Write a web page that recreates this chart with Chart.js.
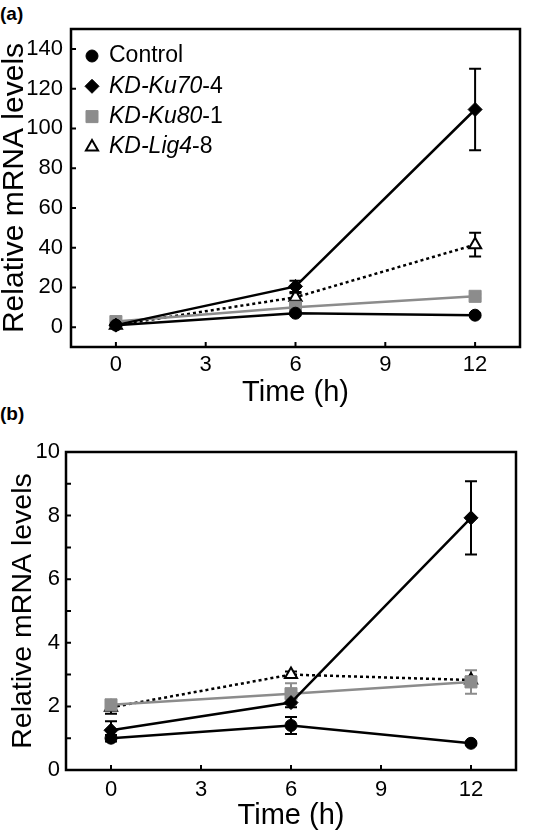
<!DOCTYPE html>
<html>
<head>
<meta charset="utf-8">
<script src="https://cdn.jsdelivr.net/npm/chart.js@4.4.1/dist/chart.umd.min.js"></script>
<style>
html, body { margin: 0; padding: 0; background: #fff; }
body { width: 553px; height: 836px; position: relative; overflow: hidden; font-family: 'Liberation Sans', Arial, sans-serif; }
.panel-label { position: absolute; left: 0; font-weight: bold; font-size: 19px; line-height: 1; }
.wrap { position: absolute; left: 0; width: 553px; }
.wrap canvas { display: block; }
</style>
</head>
<body>
<div class="panel-label" style="top:4px">(a)</div>
<div class="panel-label" style="top:404px">(b)</div>
<div class="wrap" style="top:0;height:415px"><canvas id="chartA" width="553" height="415"></canvas></div>
<div class="wrap" style="top:415px;height:421px"><canvas id="chartB" width="553" height="421"></canvas></div>
<script>
// Data
const timePoints = [0, 6, 12];
const xTicks = [0, 3, 6, 9, 12];
// [italic part, upright part]
const legendParts = [['', 'Control'], ['KD-Ku70', '-4'], ['KD-Ku80', '-1'], ['KD-Lig4', '-8']];

// panel (a)
const controlA = [1, 7, 6];
const controlErrA = [0.4, 1, 0.8];
const ku70A = [1, 20.5, 109.5];
const ku70ErrA = [0.4, 2.8, 20.5];
const ku80A = [2.8, 10, 15.5];
const ku80ErrA = [0.5, 1, 1];
const lig4A = [1, 15, 41.5];
const lig4ErrA = [0.4, 2, 6];
const yTicksA = [0, 20, 40, 60, 80, 100, 120, 140];
const yTickLabelsA = ['0', '20', '40', '60', '80', '100', '120', '140'];

// panel (b)
const controlB = [1.0, 1.4, 0.84];
const controlErrB = [0.1, 0.27, 0.05];
const ku70B = [1.25, 2.12, 7.93];
const ku70ErrB = [0.28, 0.15, 1.15];
const ku80B = [2.05, 2.4, 2.77];
const ku80ErrB = [0.15, 0.33, 0.37];
const lig4B = [1.97, 3.0, 2.83];
const lig4ErrB = [0.2, 0.1, 0.1];
const yTicksB = [0, 1, 2, 3, 4, 5, 6, 7, 8, 9, 10];
const yTickLabelsB = ['0', '', '2', '', '4', '', '6', '', '8', '', '10'];

// Styly sérií
const GRAY = '#8c8c8c';
const FONT = "'Liberation Sans', Arial, sans-serif";
const seriesStyles = [
    { color: '#000', fill: '#000', pointStyle: 'circle', radius: 6, borderWidth: 1, dash: [] },
    { color: '#000', fill: '#000', pointStyle: 'rectRot', radius: 7, borderWidth: 1, dash: [] },
    { color: GRAY, fill: GRAY, pointStyle: 'rect', radius: 8.5, borderWidth: 1, dash: [] },
    { color: '#000', fill: '#fff', pointStyle: 'triangle', radius: 7, borderWidth: 2, dash: [3, 3] }
];

function makeDatasets(values, errors) {
    return values.map((vals, i) => {
        const st = seriesStyles[i];
        return {
            label: legendParts[i].join(''),
            data: vals.map((v, j) => ({ x: timePoints[j], y: v })),
            errors: errors[i],
            borderColor: st.color,
            backgroundColor: st.fill,
            borderWidth: 2.5,
            borderDash: st.dash,
            pointStyle: st.pointStyle,
            pointRadius: st.radius,
            pointBackgroundColor: st.fill,
            pointBorderColor: st.color,
            pointBorderWidth: st.borderWidth,
            tension: 0,
            clip: false
        };
    });
}

// Chybové úsečky
const errorBarPlugin = {
    id: 'errorBars',
    beforeDatasetsDraw(chart) {
        const { ctx, scales: { x, y } } = chart;
        chart.data.datasets.forEach((ds) => {
            if (!ds.errors) return;
            ctx.save();
            ctx.strokeStyle = ds.borderColor;
            ctx.lineWidth = 2;
            ds.data.forEach((p, j) => {
                const err = ds.errors[j];
                const px = x.getPixelForValue(p.x);
                const top = y.getPixelForValue(p.y + err);
                const bot = y.getPixelForValue(p.y - err);
                ctx.beginPath();
                ctx.moveTo(px, top); ctx.lineTo(px, bot);
                ctx.moveTo(px - 6, top); ctx.lineTo(px + 6, top);
                ctx.moveTo(px - 6, bot); ctx.lineTo(px + 6, bot);
                ctx.stroke();
            });
            ctx.restore();
        });
    }
};

// Rámeček a vnitřní značky os
const framePlugin = {
    id: 'frame',
    afterDraw(chart) {
        const { ctx, chartArea: a, scales: { x, y } } = chart;
        ctx.save();
        ctx.strokeStyle = '#000';
        ctx.lineWidth = 2.5;
        ctx.strokeRect(a.left, a.top, a.right - a.left, a.bottom - a.top);
        ctx.lineWidth = 2;
        ctx.beginPath();
        x.ticks.forEach(t => {
            const px = x.getPixelForValue(t.value);
            ctx.moveTo(px, a.bottom); ctx.lineTo(px, a.bottom - 5);
        });
        y.ticks.forEach(t => {
            const py = y.getPixelForValue(t.value);
            ctx.moveTo(a.left, py); ctx.lineTo(a.left + 5, py);
        });
        ctx.stroke();
        ctx.restore();
    }
};

// Legenda (kurzíva + normální text)
const legendPlugin = {
    id: 'mixedLegend',
    afterDraw(chart) {
        const ctx = chart.ctx;
        const x0 = 92, y0 = 56, dy = 30.3;
        ctx.save();
        legendParts.forEach((parts, i) => {
            const st = seriesStyles[i];
            const cy = y0 + i * dy;
            ctx.fillStyle = st.fill;
            ctx.strokeStyle = st.color;
            ctx.lineWidth = st.borderWidth;
            Chart.helpers.drawPoint(ctx, { pointStyle: st.pointStyle, radius: st.radius, borderWidth: st.borderWidth, rotation: 0 }, x0, cy);
            let tx = 109;
            ctx.fillStyle = '#000';
            ctx.textBaseline = 'middle';
            ctx.textAlign = 'left';
            if (parts[0]) {
                ctx.font = 'italic 23px ' + FONT;
                ctx.fillText(parts[0], tx, cy);
                tx += ctx.measureText(parts[0]).width;
            }
            ctx.font = '23px ' + FONT;
            ctx.fillText(parts[1], tx, cy);
        });
        ctx.restore();
    }
};

function makeChart(canvasId, cfg) {
    const canvas = document.getElementById(canvasId);
    return new Chart(canvas.getContext('2d'), {
        type: 'line',
        data: { datasets: makeDatasets(cfg.values, cfg.errors) },
        options: {
            responsive: false,
            animation: false,
            layout: { padding: { left: 0, top: cfg.top, right: canvas.width - cfg.right, bottom: 0 } },
            plugins: { legend: { display: false }, tooltip: { enabled: false } },
            scales: {
                x: {
                    type: 'linear',
                    min: -1.5,
                    max: 13.5,
                    afterBuildTicks: s => { s.ticks = xTicks.map(v => ({ value: v })); },
                    afterFit: s => { s.height = canvas.height - cfg.bottom; },
                    grid: { display: false, drawTicks: false },
                    border: { display: false },
                    ticks: { color: '#000', padding: cfg.xTickPad, maxRotation: 0, font: { family: FONT, size: 22 } },
                    title: {
                        display: true, text: 'Time (h)', color: '#000',
                        padding: { top: 0, bottom: cfg.xTitlePad },
                        font: { family: FONT, size: 29, lineHeight: 1 }
                    }
                },
                y: {
                    type: 'linear',
                    min: cfg.yMin,
                    max: cfg.yMax,
                    afterBuildTicks: s => { s.ticks = cfg.yTicks.map(v => ({ value: v })); },
                    afterFit: s => { s.width = cfg.left; },
                    grid: { display: false, drawTicks: false },
                    border: { display: false },
                    ticks: {
                        color: '#000', padding: cfg.yTickPad, font: { family: FONT, size: 22 },
                        callback: (v, i) => cfg.yTickLabels[i]
                    },
                    title: {
                        display: true, text: 'Relative mRNA levels', color: '#000',
                        padding: { top: cfg.yTitlePad, bottom: 0 },
                        font: { family: FONT, size: cfg.yTitleSize, lineHeight: 1 }
                    }
                }
            }
        },
        plugins: cfg.legend ? [errorBarPlugin, framePlugin, legendPlugin] : [errorBarPlugin, framePlugin]
    });
}

makeChart('chartA', {
    values: [controlA, ku70A, ku80A, lig4A],
    errors: [controlErrA, ku70ErrA, ku80ErrA, lig4ErrA],
    yMin: -10, yMax: 150, yTicks: yTicksA, yTickLabels: yTickLabelsA,
    left: 71, right: 520, top: 29, bottom: 347,
    xTickPad: 5, xTitlePad: 8, yTickPad: 8, yTitlePad: 0, yTitleSize: 30,
    legend: true
});

makeChart('chartB', {
    values: [controlB, ku70B, ku80B, lig4B],
    errors: [controlErrB, ku70ErrB, ku80ErrB, lig4ErrB],
    yMin: 0, yMax: 10, yTicks: yTicksB, yTickLabels: yTickLabelsB,
    left: 66, right: 516, top: 37, bottom: 355,
    xTickPad: 7, xTitlePad: 6, yTickPad: 6, yTitlePad: 9, yTitleSize: 28.5,
    legend: false
});
</script>
</body>
</html>
